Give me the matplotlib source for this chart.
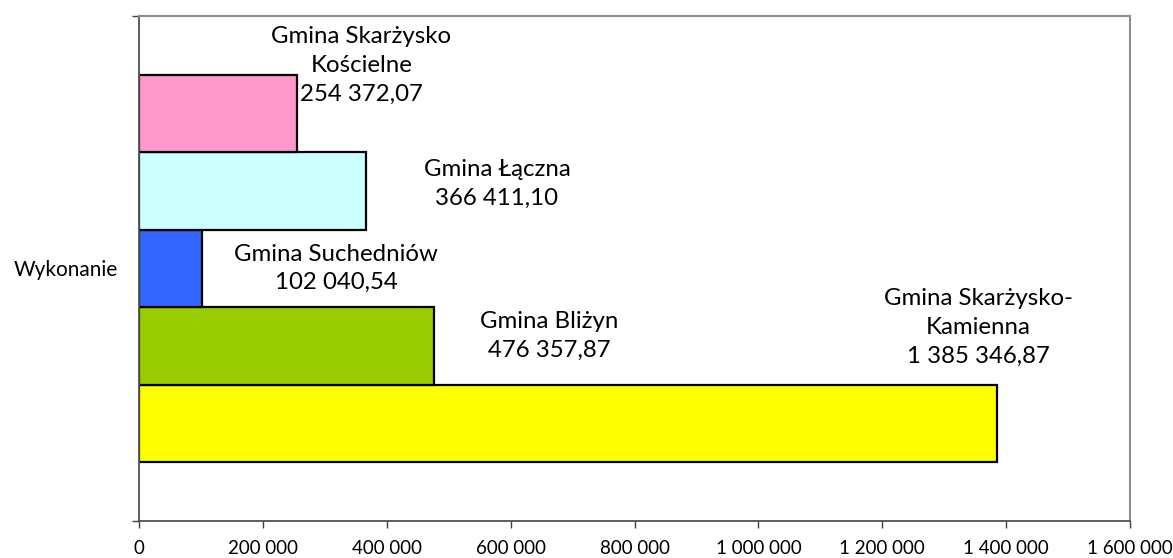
import matplotlib
matplotlib.use("Agg")
import matplotlib.pyplot as plt
from matplotlib.ticker import FuncFormatter

plt.rcParams['font.family'] = ['Lato', 'DejaVu Sans']

# series, bottom to top as drawn
names = ['Gmina Skarżysko-\nKamienna', 'Gmina Bliżyn', 'Gmina Suchedniów',
         'Gmina Łączna', 'Gmina Skarżysko\nKościelne']
values = [1385346.87, 476357.87, 102040.54, 366411.10, 254372.07]
colors = ['#FFFF00', '#99CC00', '#3366FF', '#CCFFFF', '#FF99CC']
category = 'Wykonanie'
xticks = [0, 200000, 400000, 600000, 800000, 1000000, 1200000, 1400000, 1600000]

# label offsets from bar end (pixels)
label_dx = [-19, 115, 134, 131, 65]
label_dy = [96, 10, 0, 7, 48]


def pl_num(v, decimals=2):
    s = f"{v:,.{decimals}f}"
    return s.replace(",", " ").replace(".", ",")


fig = plt.figure(figsize=(11.73, 5.58), dpi=100)
ax = fig.add_axes([139 / 1173, 1 - 521 / 558, (1130 - 139) / 1173, (521 - 16) / 558])

n = len(values)
bar_h = 0.768 / n
ypos = [-0.384 + bar_h * (i + 0.5) for i in range(n)]

ax.barh(ypos, values, height=bar_h, color=colors, edgecolor='black', linewidth=1.6)

for y, v, name, dx, dy in zip(ypos, values, names, label_dx, label_dy):
    ax.annotate(name + "\n" + pl_num(v), xy=(v, y), xytext=(dx, dy),
                textcoords='offset pixels', ha='center', va='center',
                fontsize=17.3, linespacing=1.45, color='black')

ax.set_xlim(0, 1600000)
ax.set_ylim(-0.5, 0.5)
ax.set_xticks(xticks)
ax.xaxis.set_major_formatter(FuncFormatter(lambda v, p: pl_num(v, 0)))
ax.tick_params(axis='x', direction='out', length=5, width=1, color='#404040',
               labelsize=13.5, pad=9)

ax.set_yticks([-0.5, 0.5])
ax.set_yticklabels(['', ''])
ax.set_yticks([0], minor=True)
ax.set_yticklabels([category], minor=True)
ax.tick_params(axis='y', which='major', direction='out', length=5, width=1, color='#404040')
ax.tick_params(axis='y', which='minor', length=0, labelsize=15, pad=15)

for s in ['top', 'right']:
    ax.spines[s].set_color('#8c8c8c')
    ax.spines[s].set_linewidth(1.5)
for s in ['left', 'bottom']:
    ax.spines[s].set_color('#505050')
    ax.spines[s].set_linewidth(1.3)

fig.savefig('out.png', dpi=100)
